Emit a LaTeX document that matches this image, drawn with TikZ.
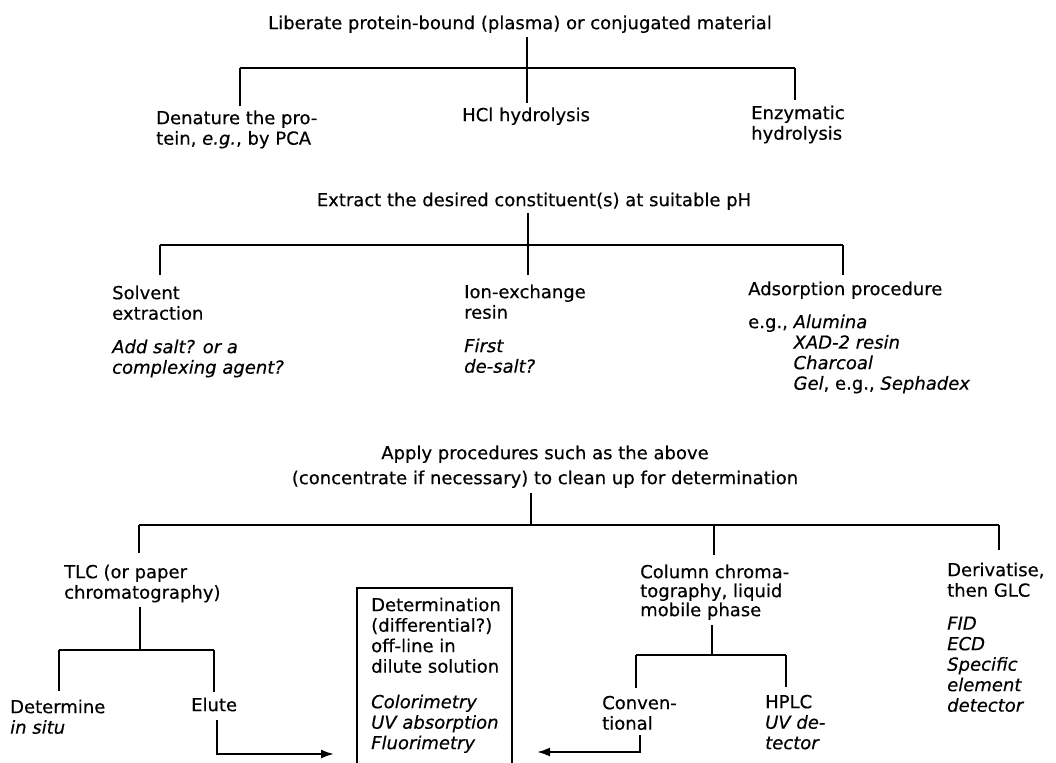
\documentclass[tikz,border=0pt]{standalone}
\usepackage{fontspec}
\setmainfont{DejaVu Sans}[FakeBold=0.4]
\usetikzlibrary{arrows.meta}
\newcommand\fstrut{\rule{0pt}{14pt}}
\tikzset{
  txt/.style={anchor=north west, inner sep=0pt, align=left, font=\fontsize{18}{20.5}\selectfont},
  ctr/.style={anchor=north, inner sep=0pt, align=center, font=\fontsize{18}{20.5}\selectfont},
  barline/.style={line width=2.8pt},
  vline/.style={line width=1.8pt},
  arrline/.style={line width=2pt, -{Latex[length=13pt,width=9pt]}},
  boxline/.style={line width=2pt}
}
\begin{document}
\begin{tikzpicture}[x=1pt,y=-1pt]
\useasboundingbox (0,0) rectangle (1056,762);
\clip (0,0) rectangle (1056,762);
% ---------- level 1 ----------
\node[ctr] (t1) at (520,15) {\fstrut Liberate protein-bound (plasma) or conjugated material};
\node[txt] (den) at (156,110) {\fstrut Denature the pro-\\tein, \textit{e.g.}, by PCA};
\node[txt] (hcl) at (462,107) {\fstrut HCl hydrolysis};
\node[txt] (enz) at (751,105) {\fstrut Enzymatic\\hydrolysis};
\coordinate (a1) at (527,37); \coordinate (a1b) at (527,103);
\coordinate (a1l) at (240,68); \coordinate (a1r) at (795,68);
\coordinate (a1ld) at (240,106); \coordinate (a1rd) at (795,100);
\draw[vline] (a1) -- (a1b);
\draw[barline] (a1l) -- (a1r);
\draw[vline] (a1l) -- (a1ld);
\draw[vline] (a1r) -- (a1rd);
% ---------- level 2 ----------
\node[ctr] (t2) at (534,192) {\fstrut Extract the desired constituent(s) at suitable pH};
\node[txt] (sol) at (112,285) {\fstrut Solvent\\extraction\\[13pt]\textit{Add salt? or a}\\\textit{complexing agent?}};
\node[txt] (ion) at (464,284) {\fstrut Ion-exchange\\resin\\[13pt]\textit{First}\\\textit{de-salt?}};
\node[txt] (ads) at (748,281) {\fstrut Adsorption procedure\\[12.5pt]e.g., \textit{Alumina}\\\phantom{e.g., }\textit{XAD-2 resin}\\\phantom{e.g., }\textit{Charcoal}\\\phantom{e.g., }\textit{Gel}, e.g., \textit{Sephadex}};
\coordinate (a2) at (528,213); \coordinate (a2b) at (528,275);
\coordinate (a2l) at (160,245); \coordinate (a2r) at (843,245);
\coordinate (a2ld) at (160,275); \coordinate (a2rd) at (843,275);
\draw[vline] (a2) -- (a2b);
\draw[barline] (a2l) -- (a2r);
\draw[vline] (a2l) -- (a2ld);
\draw[vline] (a2r) -- (a2rd);
% ---------- level 3 ----------
\node[ctr] (t3) at (545,445) {\fstrut Apply procedures such as the above\\[4.5pt](concentrate if necessary) to clean up for determination};
\coordinate (a3) at (531,493); \coordinate (a3j) at (531,525);
\coordinate (a3l) at (139,525); \coordinate (a3r) at (999,525);
\coordinate (a3m) at (714,525);
\coordinate (a3ld) at (139,553); \coordinate (a3md) at (714,555); \coordinate (a3rd) at (999,550);
\draw[vline] (a3) -- (a3j);
\draw[barline] (a3l) -- (a3r);
\draw[vline] (a3l) -- (a3ld);
\draw[vline] (a3m) -- (a3md);
\draw[vline] (a3r) -- (a3rd);
% TLC branch
\node[txt] (tlc) at (64,564) {\fstrut TLC (or paper\\chromatography)};
\node[txt] (det) at (10,699) {\fstrut Determine\\\textit{in situ}};
\node[txt] (elu) at (191,697) {\fstrut Elute};
\coordinate (b1) at (140,607); \coordinate (b1j) at (140,650);
\coordinate (b1l) at (59,650); \coordinate (b1r) at (214,650);
\coordinate (b1ld) at (59,691); \coordinate (b1rd) at (214,692);
\draw[vline] (b1) -- (b1j);
\draw[barline] (b1l) -- (b1r);
\draw[vline] (b1l) -- (b1ld);
\draw[vline] (b1r) -- (b1rd);
% determination box
\coordinate (bxnw) at (357,588); \coordinate (bxse) at (512,800);
\draw[boxline] (bxnw) rectangle (bxse);
\node[txt] (box) at (371,597) {\fstrut Determination\\(differential?)\\off-line in\\dilute solution\\[15pt]\textit{Colorimetry}\\\textit{UV absorption}\\\textit{Fluorimetry}};
% elute arrow
\coordinate (e1) at (217,720); \coordinate (e2) at (217,754); \coordinate (e3) at (334,754);
\draw[arrline] (e1) -- (e2) -- (e3);
% column branch
\node[txt] (col) at (640,564) {\fstrut Column chroma-\\[-1.5pt]tography, liquid\\[-1.5pt]mobile phase};
\node[txt] (conv) at (602,695) {\fstrut Conven-\\tional};
\node[txt] (hplc) at (765,694) {\fstrut HPLC\\\textit{UV de-}\\\textit{tector}};
\coordinate (c1) at (712,625); \coordinate (c1j) at (712,655);
\coordinate (c1l) at (636,655); \coordinate (c1r) at (786,655);
\coordinate (c1ld) at (636,688); \coordinate (c1rd) at (786,687);
\draw[vline] (c1) -- (c1j);
\draw[barline] (c1l) -- (c1r);
\draw[vline] (c1l) -- (c1ld);
\draw[vline] (c1r) -- (c1rd);
\coordinate (f1) at (640,735); \coordinate (f2) at (640,752); \coordinate (f3) at (537,752);
\draw[arrline] (f1) -- (f2) -- (f3);
% GLC branch
\node[txt] (der) at (947,562) {\fstrut Derivatise,\\then GLC\\[12.5pt]\textit{FID}\\\textit{ECD}\\\textit{Specific}\\\textit{element}\\\textit{detector}};
\end{tikzpicture}
\end{document}
